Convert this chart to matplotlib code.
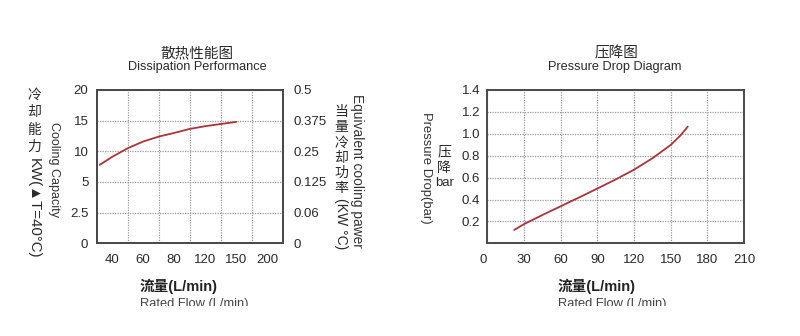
import numpy as np
import matplotlib
matplotlib.use('Agg')
import matplotlib.pyplot as plt
from matplotlib.patches import Rectangle

# Cooling capacity curve (flow in L/min, capacity in kW at dT=40C)
flow_cool = [32, 40, 50, 60, 70, 80, 100, 120, 135, 150]
cool_kw = [7.8, 9.1, 10.5, 11.6, 12.4, 13.0, 13.65, 14.1, 14.45, 14.8]
cool_xticks = [40, 60, 80, 120, 150, 200]
cool_yticks = [0, 2.5, 5, 10, 15, 20]
equiv_labels = ['0', '0.06', '0.125', '0.25', '0.375', '0.5']

# Pressure drop curve (flow in L/min, drop in bar)
flow_dp = [22, 30, 45, 60, 75, 90, 105, 120, 135, 150, 158, 164]
dp_bar = [0.122, 0.175, 0.258, 0.338, 0.418, 0.500, 0.583, 0.672, 0.776, 0.898, 0.985, 1.065]
dp_xticks = [0, 30, 60, 90, 120, 150, 180, 210]
dp_yticks = [0.2, 0.4, 0.6, 0.8, 1.0, 1.2, 1.4]

W, H = 800, 336
LINE = '#a9343c'
SPINE = '#4a4a4a'
GRID = '#9a9a9a'
TXT = '#2a2a2a'
LAT = ['Liberation Sans', 'DejaVu Sans']
CJK = ['Noto Sans CJK SC', 'DejaVu Sans']
MIX = ['Liberation Sans', 'Noto Sans CJK SC']

plt.rcParams['font.family'] = LAT

fig = plt.figure(figsize=(W / 100, H / 100), dpi=100)


def px(x, y):
    return x / W, 1 - y / H


def box(x0, y0, x1, y1):
    return [x0 / W, 1 - y1 / H, (x1 - x0) / W, (y1 - y0) / H]


def style(ax):
    for s in ax.spines.values():
        s.set_color(SPINE)
        s.set_linewidth(1.4)
    ax.tick_params(which='both', length=0, labelsize=9.5, labelcolor=TXT)


# evenly spaced cells for the uneven tick values
xpos = np.arange(len(cool_xticks)) + 0.5
x_anchor = np.r_[cool_xticks[0] - (cool_xticks[1] - cool_xticks[0]) / 2, cool_xticks,
                 cool_xticks[-1] + (cool_xticks[-1] - cool_xticks[-2]) / 2]
p_anchor = np.r_[0, xpos, len(cool_xticks)]
ypos = np.arange(len(cool_yticks))


def xf(v):
    return np.interp(v, x_anchor, p_anchor, left=-1e9, right=1e9)


def xi(p):
    return np.interp(p, p_anchor, x_anchor)


def yf(v):
    return np.interp(v, cool_yticks, ypos, left=-1e9, right=1e9)


def yi(p):
    return np.interp(p, ypos, cool_yticks)


grid_kw = dict(color=GRID, ls=(0, (1, 1)), lw=0.9)

# --- dissipation performance ---
ax1 = fig.add_axes(box(96.7, 90, 282.7, 243.3))
ax1.set_xscale('function', functions=(xf, xi))
ax1.set_yscale('function', functions=(yf, yi))
ax1.set_xlim(x_anchor[0], x_anchor[-1])
ax1.set_ylim(cool_yticks[0], cool_yticks[-1])
ax1.plot(flow_cool, cool_kw, color=LINE, lw=1.3, solid_capstyle='round')
ax1.set_xticks(cool_xticks)
ax1.set_xticklabels([str(v) for v in cool_xticks])
ax1.set_xticks(xi(np.arange(1, len(cool_xticks))), minor=True)
ax1.set_yticks(cool_yticks)
ax1.set_yticklabels(['0', '2.5', '5', '10', '15', '20'])
ax1.grid(True, which='minor', axis='x', **grid_kw)
ax1.grid(True, which='major', axis='y', **grid_kw)
style(ax1)
ax1.tick_params(axis='x', pad=8)
ax1.tick_params(axis='y', pad=6)

ax1r = ax1.twinx()
ax1r.set_yscale('function', functions=(yf, yi))
ax1r.set_ylim(ax1.get_ylim())
ax1r.set_yticks(cool_yticks)
ax1r.set_yticklabels(equiv_labels)
style(ax1r)
ax1r.tick_params(axis='y', pad=8)

# --- pressure drop ---
ax2 = fig.add_axes(box(487.3, 90, 744, 243.3))
ax2.plot(flow_dp, dp_bar, color=LINE, lw=1.3, solid_capstyle='round')
ax2.set_xlim(0, 210)
ax2.set_ylim(0, 1.4)
ax2.set_xticks(dp_xticks)
ax2.set_yticks(dp_yticks)
ax2.set_yticklabels([f'{v:.1f}' for v in dp_yticks])
ax2.grid(True, **grid_kw)
style(ax2)
ax2.tick_params(axis='x', pad=8)
ax2.tick_params(axis='y', pad=5)
ax2.get_xticklabels()[0].set_ha('right')
ax2.get_xticklabels()[0].set_x(-1)

# titles
fig.text(*px(197, 53), '散热性能图', family=CJK, fontsize=10.5, color=TXT, ha='center', va='center')
fig.text(*px(197, 67), 'Dissipation Performance', fontsize=9.2, color=TXT, ha='center', va='center')
fig.text(*px(616, 53), '压降图', family=CJK, fontsize=10.5, color=TXT, ha='center', va='center')
fig.text(*px(615, 67), 'Pressure Drop Diagram', fontsize=9.2, color=TXT, ha='center', va='center')

# x axis captions
for x0 in (140, 558):
    fig.text(*px(x0, 286), '流量(L/min)', family=MIX, fontsize=10.5, weight='bold',
             color='#222222', ha='left', va='center')
    fig.text(*px(x0, 298), 'Rated Flow (L/min)', fontsize=9.3, color='#444444',
             ha='left', va='top')

# vertical captions: upright CJK characters followed by rotated latin text
for ch, y in zip('冷却能力', [95, 112.3, 130, 146.7]):
    fig.text(*px(34, y), ch, family=CJK, fontsize=10, color=TXT, ha='center', va='center')
fig.text(*px(34, 158), 'KW(▲T=40°C)', family=LAT,
         fontsize=10.8, color=TXT, rotation=-90, ha='center', va='top')
fig.text(*px(54, 122), 'Cooling Capacity', fontsize=9, color='#333333',
         rotation=-90, ha='center', va='top')

for ch, y in zip('当量冷却功率', [111.7, 127, 142.3, 157.6, 172.9, 188]):
    fig.text(*px(341.5, y), ch, family=CJK, fontsize=10, color=TXT, ha='center', va='center')
fig.text(*px(341.5, 198), '(KW °C)', fontsize=10, color=TXT,
         rotation=-90, ha='center', va='top')
fig.text(*px(357, 93.5), 'Equivalent cooling pawer', fontsize=9.9, color='#333333',
         rotation=-90, ha='center', va='top')

for ch, y in zip('压降', [151, 167.7]):
    fig.text(*px(444.3, y), ch, family=CJK, fontsize=10, color=TXT, ha='center', va='center')
fig.text(*px(444.3, 182.7), 'bar', fontsize=9.5, color=TXT, ha='center', va='center')
fig.text(*px(426, 111.7), 'Pressure Drop(bar)', fontsize=9.4, color='#333333',
         rotation=-90, ha='center', va='top')

# bottom strip is cut off
fig.add_artist(Rectangle((0, 0), 1, 1 - 306 / H, transform=fig.transFigure,
                         facecolor='white', edgecolor='none', zorder=10))

fig.savefig('out.png', dpi=100)
